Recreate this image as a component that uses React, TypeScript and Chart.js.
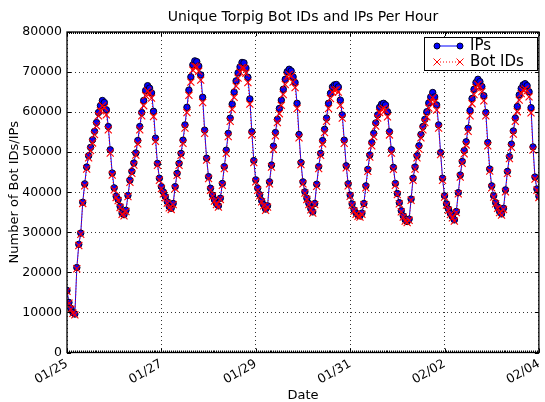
import React, { useEffect, useRef } from 'react';
import { Chart, registerables } from 'chart.js';

Chart.register(...registerables);

const chartTitle = 'Unique Torpig Bot IDs and IPs Per Hour';
const xAxisTitle = 'Date';
const yAxisTitle = 'Number of Bot IDs/IPs';
const xTickLabels = ['01/25', '01/27', '01/29', '01/31', '02/02', '02/04'];
const hoursPerTick = 48;
const totalHours = 240;
const yMax = 80000;
const yStep = 10000;
const seriesLabels = ['IPs', 'Bot IDs'];

// hourly counts, starting 01/25 00:00
const ips = [
  15500, 12500, 11000, 10000, 9600, 21200, 27000, 29800, 37500, 42100,
  46300, 49100, 51200, 53100, 55200, 57400, 59900, 61600, 62900, 62400,
  60600, 56400, 50600, 44800, 41100, 39000, 38200, 36500, 34800, 34400,
  35500, 39200, 43000, 45200, 47300, 49800, 52900, 56400, 59900, 62900,
  65400, 66600, 66000, 64800, 60200, 53500, 47200, 43500, 41400, 40100,
  38900, 37600, 36400, 36000, 37200, 41400, 44700, 47200, 49700, 53000,
  56800, 61200, 65500, 68800, 71800, 72800, 72600, 71500, 69300, 63700,
  55500, 48500, 43900, 41000, 39300, 38100, 37200, 36600, 38500, 42200,
  46400, 50500, 54700, 58500, 62000, 65000, 67800, 69800, 71300, 72400,
  72300, 71000, 68700, 63300, 55100, 47900, 43100, 41000, 39400, 37900,
  36900, 35800, 36600, 42600, 46800, 51500, 54900, 58200, 60900, 63000,
  65700, 68200, 70100, 70700, 70300, 68800, 67400, 62200, 54400, 47400,
  42600, 40100, 38500, 37200, 35900, 35100, 37200, 42000, 46400, 49700,
  52900, 55700, 58500, 62200, 64700, 66300, 66800, 66900, 66300, 63000,
  59300, 53000, 46600, 42100, 39300, 37100, 35600, 34800, 34300, 34100,
  34800, 37200, 41600, 45700, 49300, 52400, 54700, 57300, 59300, 61200,
  62000, 62200, 61800, 60100, 55100, 50600, 46200, 42200, 39700, 37400,
  35400, 34100, 33100, 32700, 33300, 38300, 43500, 46300, 49100, 51600,
  54400, 56400, 58200, 60100, 62300, 63800, 64900, 63800, 61800, 56800,
  49900, 43500, 39100, 37100, 35800, 34700, 33900, 33100, 35200, 39900,
  44300, 47700, 50400, 52600, 56000, 60400, 63400, 65700, 67400, 68200,
  67600, 66400, 64100, 59900, 52400, 45800, 41600, 39100, 37400, 36300,
  35200, 34600, 36000, 40600, 45200, 48900, 52000, 55300, 58500, 61400,
  64300, 65900, 66800, 67100, 66600, 65100, 61100, 51300, 43800, 40800,
  39000,
];

const botIds = [
  15300, 12300, 10800, 9800, 9400, 20900, 26700, 29500, 37200, 41600,
  45800, 48600, 50400, 52300, 54400, 56600, 59100, 60300, 61600, 61100,
  59300, 55600, 49800, 44300, 40600, 38700, 37900, 36200, 34500, 34100,
  35200, 38900, 42500, 44700, 46800, 49300, 52100, 55600, 59100, 61600,
  64100, 65300, 64700, 63500, 58900, 52700, 46700, 43000, 40900, 39600,
  38600, 37300, 36100, 35700, 36900, 40900, 44200, 46700, 49200, 52200,
  56000, 59900, 64200, 67500, 70500, 71500, 71300, 70200, 68000, 62400,
  54700, 48000, 43400, 40500, 39000, 37800, 36900, 36300, 38200, 41700,
  45900, 49700, 53900, 57700, 60700, 63700, 66500, 68500, 70000, 71100,
  71000, 69700, 67400, 62000, 54300, 47400, 42600, 40500, 39100, 37600,
  36600, 35500, 36300, 42100, 46300, 50700, 54100, 57400, 59600, 61700,
  64400, 66900, 68800, 69400, 69000, 67500, 66100, 60900, 53600, 46900,
  42100, 39800, 38200, 36900, 35600, 34800, 36900, 41500, 45900, 49200,
  52100, 54900, 57700, 60900, 63400, 65000, 65500, 65600, 65000, 61700,
  58500, 52200, 46100, 41600, 39000, 36800, 35300, 34500, 34000, 33800,
  34500, 36900, 41100, 45200, 48800, 51600, 53900, 56500, 58500, 59900,
  60700, 60900, 60500, 58800, 54300, 49800, 45700, 41700, 39400, 37100,
  35100, 33800, 32800, 32400, 33000, 38000, 43000, 45800, 48600, 50800,
  53600, 55600, 57400, 58800, 61000, 62500, 63600, 62500, 60500, 56000,
  49400, 43000, 38800, 36800, 35500, 34400, 33600, 32800, 34900, 39600,
  43800, 47200, 49600, 51800, 55200, 59100, 62100, 64400, 66100, 66900,
  66300, 65100, 62800, 59100, 51600, 45300, 41100, 38800, 37100, 36000,
  34900, 34300, 35700, 40100, 44700, 48400, 51200, 54500, 57700, 60100,
  63000, 64600, 65500, 65800, 65300, 63800, 59800, 50500, 43300, 40500,
  38700,
];

const FONT = '"DejaVu Sans", sans-serif';
const BLUE = '#0000ff';
const RED = '#ff0000';

const titlePlugin = {
  id: 'mplTitle',
  afterDraw(chart: any) {
    const { ctx, chartArea } = chart;
    ctx.save();
    ctx.font = `14px ${FONT}`;
    ctx.fillStyle = '#000';
    ctx.textAlign = 'center';
    ctx.textBaseline = 'middle';
    ctx.fillText(chartTitle, (chartArea.left + chartArea.right) / 2, 17);
    ctx.restore();
  },
};

const framePlugin = {
  id: 'mplFrame',
  afterDatasetsDraw(chart: any) {
    const { ctx, chartArea, scales } = chart;
    const { left, right, top, bottom } = chartArea;
    ctx.save();
    ctx.strokeStyle = '#000';
    ctx.lineWidth = 1;
    ctx.beginPath();
    for (let h = 0; h <= totalHours; h++) {
      const x = Math.round(scales.x.getPixelForValue(h)) + 0.5;
      ctx.moveTo(x, bottom);
      ctx.lineTo(x, bottom - 2);
      ctx.moveTo(x, top);
      ctx.lineTo(x, top + 2);
    }
    ctx.stroke();
    ctx.beginPath();
    for (let i = 0; i < xTickLabels.length; i++) {
      const x = Math.round(scales.x.getPixelForValue(i * hoursPerTick)) + 0.5;
      ctx.moveTo(x, bottom);
      ctx.lineTo(x, bottom - 4);
      ctx.moveTo(x, top);
      ctx.lineTo(x, top + 4);
    }
    for (let v = 0; v <= yMax; v += yStep) {
      const y = Math.round(scales.y.getPixelForValue(v)) + 0.5;
      ctx.moveTo(left, y);
      ctx.lineTo(left + 4, y);
      ctx.moveTo(right, y);
      ctx.lineTo(right - 4, y);
    }
    ctx.stroke();
    ctx.lineWidth = 1.3;
    ctx.strokeRect(left, top, right - left, bottom - top);
    ctx.restore();
  },
};

const legendPlugin = {
  id: 'mplLegend',
  afterDraw(chart: any) {
    const { ctx } = chart;
    const bx = 424.5, by = 37.5, bw = 113, bh = 33;
    ctx.save();
    ctx.fillStyle = '#fff';
    ctx.fillRect(bx, by, bw, bh);
    ctx.strokeStyle = '#000';
    ctx.lineWidth = 1;
    ctx.strokeRect(bx, by, bw, bh);
    const x1 = 437, x2 = 460;
    const r1 = 46, r2 = 62;
    ctx.strokeStyle = BLUE;
    ctx.lineWidth = 1;
    ctx.beginPath();
    ctx.moveTo(x1, r1);
    ctx.lineTo(x2, r1);
    ctx.stroke();
    for (const x of [x1, x2]) {
      ctx.beginPath();
      ctx.arc(x, r1, 3, 0, Math.PI * 2);
      ctx.fillStyle = BLUE;
      ctx.fill();
      ctx.strokeStyle = '#000022';
      ctx.stroke();
    }
    ctx.strokeStyle = RED;
    ctx.setLineDash([1, 2]);
    ctx.beginPath();
    ctx.moveTo(x1, r2);
    ctx.lineTo(x2, r2);
    ctx.stroke();
    ctx.setLineDash([]);
    for (const x of [x1, x2]) {
      ctx.beginPath();
      ctx.moveTo(x - 3.5, r2 - 3.5);
      ctx.lineTo(x + 3.5, r2 + 3.5);
      ctx.moveTo(x - 3.5, r2 + 3.5);
      ctx.lineTo(x + 3.5, r2 - 3.5);
      ctx.stroke();
    }
    ctx.fillStyle = '#000';
    ctx.font = `15px ${FONT}`;
    ctx.textAlign = 'left';
    ctx.textBaseline = 'middle';
    ctx.fillText(seriesLabels[0], 470, r1 + 0.5);
    ctx.fillText(seriesLabels[1], 470, r2 + 0.5);
    ctx.restore();
  },
};

export default function App() {
  const canvasRef = useRef<HTMLCanvasElement | null>(null);

  useEffect(() => {
    document.body.style.margin = '0';
    const canvas = canvasRef.current;
    if (!canvas) return;
    const chart = new Chart(canvas, {
      type: 'line',
      data: {
        datasets: [
          {
            label: seriesLabels[1],
            data: botIds.map((v, i) => ({ x: i, y: v })),
            borderColor: RED,
            borderWidth: 1,
            borderDash: [1, 2],
            pointStyle: 'crossRot',
            pointRadius: 5,
            pointBorderColor: RED,
            pointBorderWidth: 1.1,
            pointBackgroundColor: RED,
            fill: false,
            tension: 0,
            order: 0,
          },
          {
            label: seriesLabels[0],
            data: ips.map((v, i) => ({ x: i, y: v })),
            borderColor: BLUE,
            borderWidth: 1,
            pointStyle: 'circle',
            pointRadius: 3.2,
            pointBackgroundColor: BLUE,
            pointBorderColor: '#000022',
            pointBorderWidth: 1,
            fill: false,
            tension: 0,
            order: 1,
          },
        ],
      },
      options: {
        animation: false,
        responsive: false,
        devicePixelRatio: 1,
        layout: { padding: { top: 32, right: 2, left: 0, bottom: 0 } },
        plugins: {
          legend: { display: false },
          title: { display: false },
          tooltip: { enabled: false },
        },
        scales: {
          x: {
            type: 'linear',
            min: 0,
            max: totalHours,
            border: { display: false, dash: [1, 3] },
            grid: { color: 'rgba(0,0,0,0.8)', lineWidth: 1, drawTicks: false },
            ticks: {
              stepSize: hoursPerTick,
              autoSkip: false,
              maxRotation: 30,
              minRotation: 30,
              padding: 4,
              color: '#000',
              font: { family: FONT, size: 12.5 },
              callback: (v: any) => xTickLabels[Math.round(Number(v) / hoursPerTick)] ?? '',
            },
            title: {
              display: true,
              text: xAxisTitle,
              color: '#000',
              font: { family: FONT, size: 13, lineHeight: 1 },
              padding: { top: 0, bottom: 0 },
            },
            afterFit: (s: any) => {
              s.height = 49.5;
              s.paddingLeft = 0;
              s.paddingRight = 0;
            },
          },
          y: {
            min: 0,
            max: yMax,
            border: { display: false, dash: [1, 3] },
            grid: { color: 'rgba(0,0,0,0.8)', lineWidth: 1, drawTicks: false },
            ticks: {
              stepSize: yStep,
              padding: 5,
              color: '#000',
              font: { family: FONT, size: 12.5 },
              callback: (v: any) => String(v),
            },
            title: {
              display: true,
              text: yAxisTitle,
              color: '#000',
              font: { family: FONT, size: 13, lineHeight: 1 },
              padding: { top: 8, bottom: 0 },
            },
            afterFit: (s: any) => {
              s.width = 67;
            },
          },
        },
      },
      plugins: [titlePlugin, framePlugin, legendPlugin],
    });
    return () => chart.destroy();
  }, []);

  return (
    <div style={{ width: 545, height: 402, background: '#fff' }}>
      <canvas ref={canvasRef} width={545} height={402} style={{ display: 'block' }} />
    </div>
  );
}
